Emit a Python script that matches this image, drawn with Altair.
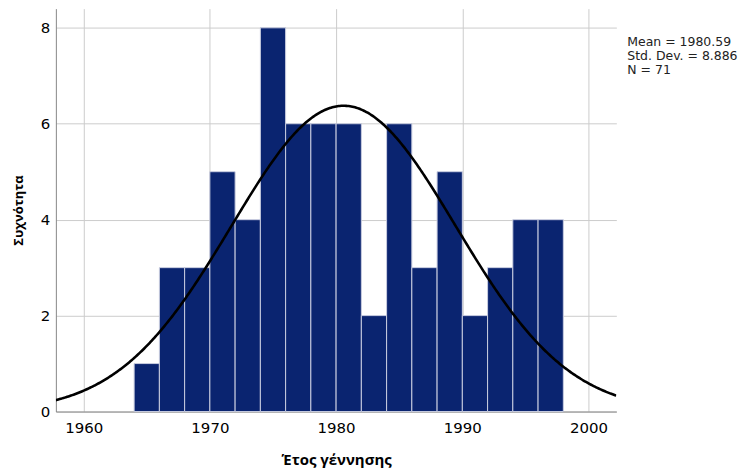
import altair as alt
import pandas as pd

# Histogram data (bin width 2 years)
bin_starts = [1964, 1966, 1968, 1970, 1972, 1974, 1976, 1978, 1980,
              1982, 1984, 1986, 1988, 1990, 1992, 1994, 1996]
counts = [1, 3, 3, 5, 4, 8, 6, 6, 6, 2, 6, 3, 5, 2, 3, 4, 4]
bin_width = 2

# Summary statistics shown in the chart
mean_val = 1980.59
sd_val = 8.886
n_val = 71

x_ticks = [1960, 1970, 1980, 1990, 2000]
y_ticks = [0, 2, 4, 6, 8]
x_domain = [1957.8, 2002.2]
y_domain = [0, 8.4]

df = pd.DataFrame({
    "start": bin_starts,
    "end": [b + bin_width for b in bin_starts],
    "count": counts,
})

W, H = 562, 404
label_font = "DejaVu Sans"
title_font = "Open Sans"

xscale = alt.Scale(domain=x_domain, nice=False, zero=False)
yscale = alt.Scale(domain=y_domain, nice=False)

xaxis = alt.Axis(values=x_ticks, format="d", title="Έτος γέννησης", ticks=False,
                 labelFontSize=15, labelFont=label_font, labelColor="#000",
                 labelPadding=9, titleFont=title_font, titleFontSize=15,
                 titleFontWeight="bold", titleColor="#000", titlePadding=17,
                 domainColor="#888", gridColor="#cccccc", labelFlush=False)
yaxis = alt.Axis(values=y_ticks, title="Συχνότητα", ticks=False,
                 labelFontSize=15, labelFont=label_font, labelColor="#000",
                 labelPadding=6, titleFont=title_font, titleFontSize=13,
                 titleFontWeight="bold", titleColor="#000", titlePadding=15,
                 domainColor="#888", gridColor="#cccccc")

bars = alt.Chart(df).mark_rect(color="#0a2470", stroke="#c9cde0", strokeWidth=1).encode(
    x=alt.X("start:Q", scale=xscale, axis=xaxis),
    x2="end:Q",
    y=alt.Y("count:Q", scale=yscale, axis=yaxis),
    y2=alt.datum(0),
)

curve = alt.Chart(alt.sequence(x_domain[0], x_domain[1] + 0.05, 0.1, as_="yr")).transform_calculate(
    dens=f"{n_val}*{bin_width}*exp(-0.5*pow((datum.yr-{mean_val})/{sd_val},2))/({sd_val}*sqrt(2*PI))"
).mark_line(color="#000", strokeWidth=2.6, clip=True).encode(
    x=alt.X("yr:Q", scale=xscale),
    y=alt.Y("dens:Q", scale=yscale),
)

stats_text = [f"Mean = {mean_val}", f"Std. Dev. = {sd_val}", f"N = {n_val}"]
annot = alt.Chart(pd.DataFrame({"t": [0]})).mark_text(
    align="left", baseline="alphabetic", fontSize=12.5, font=label_font,
    color="#222", lineHeight=14.5
).encode(
    x=alt.value(573), y=alt.value(37), text=alt.value(stats_text)
)

chart = alt.layer(bars, curve, annot).properties(
    width=W, height=H,
    autosize=alt.AutoSizeParams(type="none"),
    padding={"left": 48, "top": 0, "right": 124, "bottom": 62},
).configure_view(stroke=None).configure_axis(grid=True)

chart.save("out.html", embed_options={"renderer": "svg", "actions": False})
